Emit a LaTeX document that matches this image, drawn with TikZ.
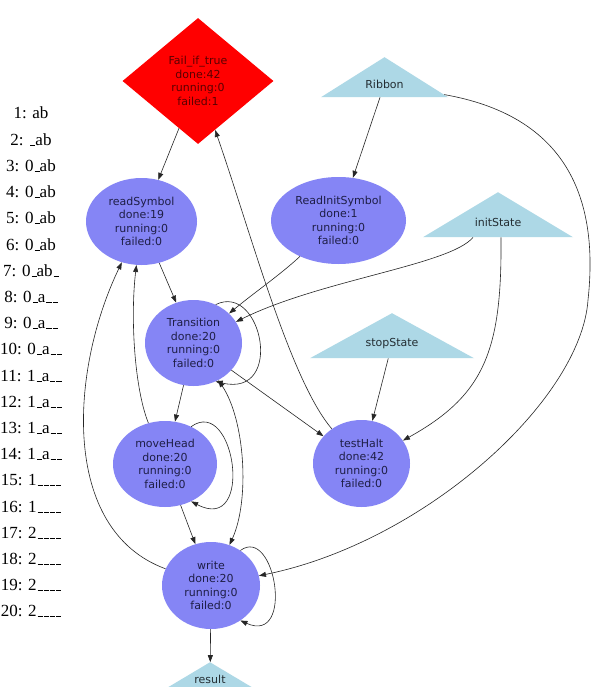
\documentclass[tikz,border=0pt]{standalone}
\usepackage{fontspec}
\setmainfont{Liberation Serif}
\newfontfamily\lblfont{DejaVu Sans}
\usetikzlibrary{arrows.meta,shapes.geometric}
\definecolor{jobc}{HTML}{8585F5}
\definecolor{portc}{HTML}{ADD8E6}
\definecolor{checkc}{HTML}{FF0000}
\definecolor{jobtxt}{HTML}{1E1E46}
\definecolor{porttxt}{HTML}{232D32}
\definecolor{checktxt}{HTML}{5A0000}
\newcommand\usc{\leavevmode\kern.06em\vbox{\hrule width.3em}}
\tikzset{
  lbl/.style  ={font=\lblfont\fontsize{11}{13.5}\selectfont,align=center},
  job/.style  ={lbl,ellipse,fill=jobc,text=jobtxt,inner sep=0pt},
  check/.style={lbl,diamond,aspect=1.2,fill=checkc,text=checktxt,inner sep=0pt},
  port/.style ={lbl,isosceles triangle,isosceles triangle apex angle=150,
                isosceles triangle stretches,shape border rotate=90,
                fill=portc,text=porttxt,inner sep=0pt},
  trace/.style={font=\fontsize{17}{20}\selectfont,anchor=base},
  conn/.style ={draw=black!85,line width=0.6pt,-{Triangle[length=7pt,width=5pt]}},
}
\begin{document}
\begin{tikzpicture}[x=1pt,y=-1pt]
  \path[use as bounding box] (0,0) rectangle (594,687);
  \clip (0,0) rectangle (594,687);
  \fill[white] (0,0) rectangle (594,687);

  % tape after each step
  \foreach \n/\tape in {1/ab,2/\usc ab,3/0\usc ab,4/0\usc ab,5/0\usc ab,6/0\usc ab,
      7/0\usc ab\usc,8/0\usc a\usc\usc,9/0\usc a\usc\usc,10/0\usc a\usc\usc,
      11/1\usc a\usc\usc,12/1\usc a\usc\usc,13/1\usc a\usc\usc,14/1\usc a\usc\usc,
      15/1\usc\usc\usc\usc,16/1\usc\usc\usc\usc,17/2\usc\usc\usc\usc,
      18/2\usc\usc\usc\usc,19/2\usc\usc\usc\usc,20/2\usc\usc\usc\usc}
    \node[trace] (t\n) at (31,{119+26.2*(\n-1)}) {\n: \tape};

  % tasks
  \node[check,minimum width=151pt,minimum height=126pt] (fail) at (198,81) {Fail\_if\_true\\done:42\\running:0\\failed:1};
  \node[job,minimum width=111pt,minimum height=87pt] (readsym) at (141.5,221.5) {readSymbol\\done:19\\running:0\\failed:0};
  \node[job,minimum width=135pt,minimum height=87pt] (readinit) at (338.5,220.5) {ReadInitSymbol\\done:1\\running:0\\failed:0};
  \node[job,minimum width=97pt,minimum height=86pt] (trans) at (193.5,343) {Transition\\done:20\\running:0\\failed:0};
  \node[job,minimum width=104pt,minimum height=86pt] (movehead) at (165,464) {moveHead\\done:20\\running:0\\failed:0};
  \node[job,minimum width=97pt,minimum height=87pt] (testhalt) at (361.5,463.5) {testHalt\\done:42\\running:0\\failed:0};
  \node[job,minimum width=98pt,minimum height=87pt] (write) at (211,585.5) {write\\done:20\\running:0\\failed:0};

  % inputs / outputs
  \node[port,minimum width=127pt,minimum height=40pt,anchor=apex] (ribbon) at (384.5,57) {Ribbon};
  \node[port,minimum width=150pt,minimum height=45pt,anchor=apex] (initstate) at (498,192) {initState};
  \node[port,minimum width=164pt,minimum height=45pt,anchor=apex] (stopstate) at (392,313) {stopState};
  \node[port,minimum width=151pt,minimum height=45pt,anchor=apex,
        isosceles triangle apex angle=110,text depth=20pt] (result) at (210,662) {result};

  % dependencies
  \draw[conn] (fail) -- (readsym);
  \draw[conn] (testhalt) .. controls (290,380) and (250,230) .. (fail);
  \draw[conn] (readsym) -- (trans);
  \draw[conn] (readinit) .. controls (280,275) and (255,292) .. (trans);
  \draw[conn] ([xshift=-25pt]initstate.south) .. controls (450,265) and (320,280) .. (trans);
  \draw[conn] (trans.60) .. controls (262,282) and (285,398) .. (trans.-60);
  \draw[conn] (trans) -- (movehead);
  \draw[conn] (trans) -- (testhalt);
  \draw[conn] (stopstate) -- (testhalt);
  \draw[conn] ([xshift=3pt]initstate.south) .. controls (502,350) and (485,395) .. (testhalt);
  \draw[conn] (movehead) .. controls (135,390) and (130,320) .. (readsym);
  \draw[conn] (movehead.55) .. controls (235,395) and (255,535) .. (movehead.-55);
  \draw[conn] (movehead) -- (write);
  \draw[conn,{Triangle[length=7pt,width=5pt]}-{Triangle[length=7pt,width=5pt]}] (trans) .. controls (245,420) and (250,500) .. (write);
  \draw[conn] (write) .. controls (60,530) and (70,370) .. (readsym);
  \draw[conn] (ribbon) .. controls (560,115) and (600,190) .. (588,300) .. controls (581,400) and (425,542) .. (write);
  \draw[conn] (ribbon) -- (readinit);
  \draw[conn] (write.50) .. controls (275,525) and (295,645) .. (write.-50);
  \draw[conn] (write) -- (result);
\end{tikzpicture}
\end{document}
